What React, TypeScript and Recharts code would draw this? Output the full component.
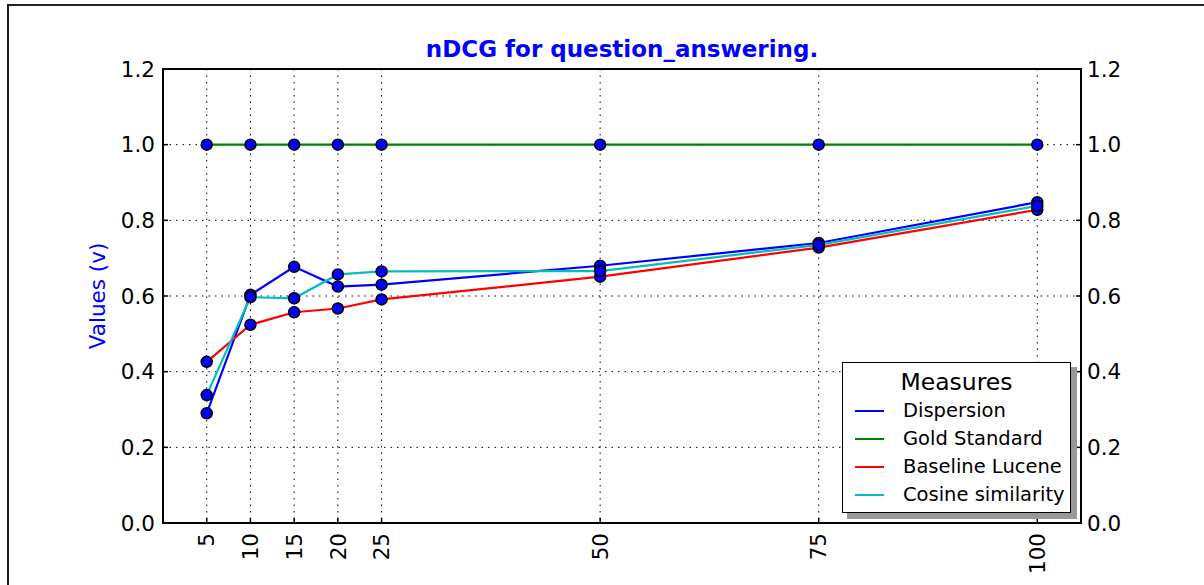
import { CartesianGrid, Legend, Line, LineChart, ReferenceArea, XAxis, YAxis } from 'recharts';

const X_VALUES = [5, 10, 15, 20, 25, 50, 75, 100];
const DISPERSION = [0.29, 0.603, 0.677, 0.625, 0.63, 0.68, 0.74, 0.848];
const GOLD = [1, 1, 1, 1, 1, 1, 1, 1];
const BASELINE = [0.426, 0.524, 0.557, 0.567, 0.591, 0.651, 0.728, 0.828];
const COSINE = [0.338, 0.597, 0.594, 0.657, 0.665, 0.666, 0.735, 0.838];
const Y_TICKS = [0, 0.2, 0.4, 0.6, 0.8, 1.0, 1.2];

const SERIES = [
  { key: 'dispersion', name: 'Dispersion', color: '#0000ff' },
  { key: 'gold', name: 'Gold Standard', color: '#008000' },
  { key: 'baseline', name: 'Baseline Lucene', color: '#ff0000' },
  { key: 'cosine', name: 'Cosine similarity', color: '#00bfbf' },
];

const rows = X_VALUES.map((x, i) => ({
  x,
  dispersion: DISPERSION[i],
  gold: GOLD[i],
  baseline: BASELINE[i],
  cosine: COSINE[i],
}));

const FONT = '"DejaVu Sans", sans-serif';

function XTick(props: any) {
  const { x, y, payload } = props;
  return (
    <text
      x={x}
      y={y}
      transform={`rotate(-90, ${x}, ${y})`}
      textAnchor="end"
      dy="0.36em"
      fill="#000"
      fontSize={21.5}
      fontFamily={FONT}
    >
      {payload.value}
    </text>
  );
}

function LegendBox() {
  return (
    <div style={{ position: 'relative', width: 230, height: 152, fontFamily: FONT }}>
      <div style={{ position: 'absolute', left: 5, top: 5, width: 230, height: 152, background: '#999' }} />
      <div
        style={{
          position: 'absolute',
          left: 0,
          top: 0,
          width: 227,
          height: 149,
          background: '#fff',
          border: '1.5px solid #000',
        }}
      >
        <div style={{ textAlign: 'center', fontSize: 23.5, lineHeight: '24px', marginTop: 7, color: '#000' }}>Measures</div>
        {SERIES.map((s, i) => (
          <div key={s.key} style={{ position: 'absolute', left: 0, top: 38 + i * 28, height: 20, width: 227 }}>
            <div style={{ position: 'absolute', left: 12, top: 9, width: 29, height: 2, background: s.color }} />
            <div style={{ position: 'absolute', left: 60, top: 0, fontSize: 19.5, lineHeight: '20px', color: '#000', whiteSpace: 'nowrap' }}>
              {s.name}
            </div>
          </div>
        ))}
      </div>
    </div>
  );
}

export default function App() {
  return (
    <div style={{ position: 'fixed', left: 0, top: 0, width: 1204, height: 585, background: '#fff' }}>
      <div style={{ position: 'absolute', left: 7, top: 4, width: 1197, height: 1.5, background: '#222' }} />
      <div style={{ position: 'absolute', left: 7, top: 4, width: 1.5, height: 581, background: '#222' }} />
      <LineChart
        width={1204}
        height={585}
        data={rows}
        margin={{ top: 69, right: 0, bottom: 0, left: 0 }}
        style={{ position: 'absolute', left: 0, top: 0 }}
      >
        <CartesianGrid
          yAxisId="left"
          stroke="#000"
          strokeWidth={1}
          strokeDasharray="1.5 5"
          horizontalValues={Y_TICKS}
          verticalValues={X_VALUES}
        />
        <XAxis
          dataKey="x"
          type="number"
          domain={[0, 105]}
          ticks={X_VALUES}
          height={62}
          axisLine={false}
          tickLine={{ stroke: '#000', strokeWidth: 1.5 }}
          tickSize={-5}
          tickMargin={15}
          tick={<XTick />}
          interval={0}
        />
        <XAxis
          xAxisId="top"
          dataKey="x"
          type="number"
          orientation="top"
          domain={[0, 105]}
          ticks={X_VALUES}
          height={0}
          axisLine={false}
          tickLine={{ stroke: '#000', strokeWidth: 1.5 }}
          tickSize={-5}
          tick={() => <g />}
          interval={0}
        />
        <YAxis
          yAxisId="left"
          domain={[0, 1.2]}
          ticks={Y_TICKS}
          width={163}
          axisLine={false}
          tickLine={{ stroke: '#000', strokeWidth: 1.5 }}
          tickSize={-5}
          tickMargin={13}
          tickFormatter={(v: number) => v.toFixed(1)}
          tick={{ fill: '#000', fontSize: 21.5, fontFamily: FONT }}
          interval={0}
          label={{
            content: () => (
              <g>
                <text
                  x={97}
                  y={296}
                  transform="rotate(-90, 97, 296)"
                  textAnchor="middle"
                  dominantBaseline="central"
                  fill="#0000ff"
                  fontSize={21.5}
                  fontFamily={FONT}
                >
                  Values (v)
                </text>
                <text
                  x={622}
                  y={57}
                  textAnchor="middle"
                  fill="#0000ff"
                  fontWeight="bold"
                  fontSize={23}
                  fontFamily={FONT}
                >
                  nDCG for question_answering.
                </text>
              </g>
            ),
          }}
        />
        <YAxis
          yAxisId="right"
          orientation="right"
          domain={[0, 1.2]}
          ticks={Y_TICKS}
          width={123}
          axisLine={false}
          tickLine={{ stroke: '#000', strokeWidth: 1.5 }}
          tickSize={-5}
          tickMargin={11}
          tickFormatter={(v: number) => v.toFixed(1)}
          tick={{ fill: '#000', fontSize: 21.5, fontFamily: FONT }}
          interval={0}
        />
        <ReferenceArea
          yAxisId="left"
          x1={0}
          x2={105}
          y1={0}
          y2={1.2}
          fill="none"
          stroke="#000"
          strokeWidth={2}
          ifOverflow="visible"
        />
        {SERIES.map((s) => (
          <Line
            key={s.key}
            yAxisId="left"
            type="linear"
            dataKey={s.key}
            name={s.name}
            stroke={s.color}
            strokeWidth={2.2}
            dot={false}
            activeDot={false}
            isAnimationActive={false}
          />
        ))}
        {SERIES.map((s) => (
          <Line
            key={`${s.key}-pts`}
            xAxisId="top"
            yAxisId="right"
            type="linear"
            dataKey={s.key}
            stroke="none"
            legendType="none"
            dot={{ r: 5.5, fill: '#0000ff', stroke: '#000', strokeWidth: 1.5 }}
            activeDot={false}
            isAnimationActive={false}
          />
        ))}
        <Legend
          layout="vertical"
          align="center"
          verticalAlign="middle"
          content={() => <LegendBox />}
          wrapperStyle={{ left: 842, top: 362, width: 235, height: 157 }}
        />
      </LineChart>
    </div>
  );
}
